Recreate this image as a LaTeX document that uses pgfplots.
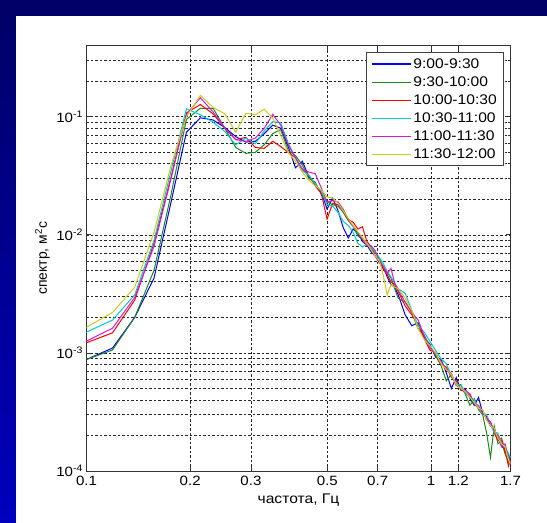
\documentclass[border=0pt]{standalone}
\usepackage{fontspec}
\setmainfont{Liberation Sans}[FakeStretch=1.12]
\newfontfamily\ylabfont{Liberation Sans}
\usepackage{pgfplots}
\usepackage{pgfplotstable}
\pgfplotsset{compat=1.18}

\definecolor{bgtop}{RGB}{0,0,102}
\definecolor{bgbot}{RGB}{0,0,190}
\definecolor{mblue}{rgb}{0,0,1}
\definecolor{mgreen}{rgb}{0.1,0.55,0.1}
\definecolor{mred}{rgb}{1,0,0}
\definecolor{mcyan}{rgb}{0,0.8,0.8}
\definecolor{mmag}{rgb}{0.85,0.1,0.85}
\definecolor{myel}{rgb}{0.8,0.8,0.1}

% spectra, one column per half-hour interval
\pgfplotstableread{
f     b       g       r       c       m       y
0.100 8.8e-4  8.8e-4  1.22e-3 1.5e-3  1.26e-3 1.65e-3
0.119 1.1e-3  1.06e-3 1.48e-3 1.9e-3  1.62e-3 2.2e-3
0.138 2.0e-3  2.0e-3  2.8e-3  3.1e-3  2.95e-3 3.6e-3
0.157 4.3e-3  5.0e-3  8.5e-3  9.0e-3  8.0e-3  1.05e-2
0.176 0.019   0.022   0.031   0.035   0.030   0.039
0.195 0.074   0.095   0.108   0.117   0.105   0.100
0.214 0.098   0.118   0.127   0.104   0.145   0.152
0.233 0.094   0.118   0.106   0.090   0.110   0.120
0.252 0.081   0.080   0.080   0.075   0.080   0.106
0.271 0.068   0.055   0.064   0.058   0.064   0.074
0.290 0.061   0.049   0.067   0.066   0.062   0.107
0.309 0.062   0.050   0.055   0.059   0.066   0.104
0.328 0.072   0.058   0.054   0.076   0.080   0.116
0.347 0.085   0.072   0.062   0.091   0.105   0.098
0.366 0.080   0.078   0.056   0.089   0.085   0.070
0.385 0.056   0.052   0.050   0.060   0.058   0.050
0.404 0.037   0.047   0.045   0.045   0.045   0.042
0.423 0.042   0.039   0.036   0.035   0.036   0.034
0.442 0.031   0.030   0.032   0.032   0.034   0.029
0.461 0.027   0.028   0.026   0.027   0.033   0.026
0.480 0.023   0.022   0.0225  0.0235  0.025   0.024
0.499 0.0165  0.019   0.0136  0.018   0.019   0.021
0.518 0.0205  0.018   0.0185  0.0175  0.0195  0.0205
0.537 0.016   0.0175  0.018   0.0155  0.019   0.0185
0.556 0.0115  0.0155  0.016   0.013   0.0165  0.016
0.575 0.0094  0.0132  0.0135  0.012   0.0135  0.0138
0.594 0.0112  0.0118  0.0128  0.0105  0.0118  0.012
0.613 0.0104  0.0098  0.0112  0.0085  0.0105  0.0106
0.632 0.0088  0.0092  0.0117  0.0079  0.0092  0.0095
0.651 0.0082  0.0086  0.0088  0.0084  0.0081  0.0085
0.670 0.0072  0.0074  0.0079  0.0078  0.0081  0.0075
0.689 0.0066  0.0071  0.0066  0.0072  0.0073  0.0066
0.708 0.0058  0.0063  0.0059  0.0064  0.0059  0.0060
0.727 0.0054  0.0053  0.0051  0.0057  0.0054  0.0045
0.746 0.0044  0.0048  0.0046  0.0049  0.0047  0.0031
0.765 0.0038  0.0043  0.0040  0.0044  0.0052  0.0038
0.784 0.0036  0.0035  0.0038  0.0039  0.0039  0.0036
0.803 0.0031  0.0029  0.0033  0.0035  0.0034  0.0035
0.841 0.0021  0.0027  0.0025  0.0032  0.0027  0.0029
0.879 0.0017  0.0022  0.0021  0.0023  0.0022  0.0023
0.917 0.0018  0.0016  0.00175 0.0017  0.0019  0.0016
0.955 0.00135 0.00142 0.00132 0.0015  0.0014  0.0013
0.993 0.00118 0.00112 0.00105 0.00125 0.0011  0.00115
1.031 9.2e-4  9.5e-4  1.01e-3 1.05e-3 9.7e-4  1.0e-3
1.069 8.8e-4  7.8e-4  8.0e-4  8.9e-4  8.5e-4  8.1e-4
1.107 6.8e-4  5.8e-4  7.6e-4  8.1e-4  7.2e-4  7.2e-4
1.145 5.0e-4  6.6e-4  6.2e-4  6.4e-4  6.7e-4  6.6e-4
1.183 6.2e-4  5.3e-4  5.8e-4  5.5e-4  5.3e-4  5.4e-4
1.221 4.8e-4  5.4e-4  4.9e-4  5.3e-4  5.0e-4  5.0e-4
1.259 4.9e-4  4.4e-4  4.6e-4  4.5e-4  4.8e-4  4.7e-4
1.297 4.1e-4  3.6e-4  4.4e-4  4.2e-4  4.5e-4  4.2e-4
1.335 3.6e-4  4.1e-4  3.7e-4  4.0e-4  3.7e-4  3.8e-4
1.373 4.2e-4  3.3e-4  3.4e-4  3.4e-4  3.6e-4  3.4e-4
1.411 3.1e-4  3.0e-4  3.3e-4  3.1e-4  3.1e-4  3.3e-4
1.449 2.9e-4  2.1e-4  2.7e-4  3.0e-4  2.8e-4  2.7e-4
1.487 2.4e-4  1.3e-4  2.6e-4  2.5e-4  2.6e-4  2.4e-4
1.525 2.3e-4  2.4e-4  2.1e-4  2.1e-4  2.2e-4  2.3e-4
1.563 1.9e-4  1.7e-4  1.8e-4  2.1e-4  2.0e-4  1.9e-4
1.601 1.65e-4 1.8e-4  1.9e-4  1.7e-4  1.6e-4  1.7e-4
1.639 1.48e-4 1.4e-4  1.5e-4  1.6e-4  1.7e-4  1.6e-4
1.677 1.4e-4  1.2e-4  1.1e-4  1.4e-4  1.3e-4  1.25e-4
1.700 1.2e-4  1.35e-4 1.25e-4 1.3e-4  1.2e-4  1.15e-4
}\spec

\newcommand\ticfont{\fontsize{13.5}{15}\selectfont}

\begin{document}
\begin{tikzpicture}
\path[use as bounding box] (0,0) rectangle (547bp,523bp);
\shade[top color=bgtop, bottom color=bgbot] (0,0) rectangle (547bp,523bp);
\fill[white] (16bp,0) rectangle (547bp,507bp);
\begin{axis}[
  at={(86.5bp,52bp)}, anchor=south west,
  scale only axis, width=424bp, height=425.3bp,
  xmode=log, ymode=log,
  xmin=0.1, xmax=1.7, ymin=1e-4, ymax=0.4,
  xtick={0.1,0.2,0.3,0.5,0.7,1,1.2,1.7},
  xticklabels={0.1,0.2,0.3,0.5,0.7,1,1.2,1.7},
  minor xtick={},
  ytick={1e-4,1e-3,1e-2,1e-1},
  yticklabels={10\textsuperscript{-4},10\textsuperscript{-3},10\textsuperscript{-2},10\textsuperscript{-1}},
  minor ytick={2e-4,3e-4,4e-4,5e-4,6e-4,7e-4,8e-4,9e-4,
               2e-3,3e-3,4e-3,5e-3,6e-3,7e-3,8e-3,9e-3,
               2e-2,3e-2,4e-2,5e-2,6e-2,7e-2,8e-2,9e-2,
               2e-1,3e-1},
  grid=both,
  major grid style={black!85, line width=0.7bp, dash pattern=on 2.5bp off 2bp},
  minor grid style={black!85, line width=0.7bp, dash pattern=on 2.5bp off 2bp},
  axis line style={black!80, line width=1bp},
  every tick/.style={black!80, line width=0.8bp},
  major tick length=5bp, minor tick length=3bp,
  tick align=inside,
  xticklabel style={font=\ticfont, yshift=-1.5bp},
  yticklabel style={font=\ticfont},
  xlabel={частота, Гц},
  ylabel={\ylabfont спектр, м\textsuperscript{2}с},
  xlabel style={font=\fontsize{14}{16}\selectfont, at={(axis description cs:0.5,0)}, anchor=base, yshift=-32bp},
  ylabel style={font=\fontsize{14}{16}\selectfont, at={(axis description cs:-0.0932,0.5)}, anchor=base},
  legend style={at={(1,1)}, anchor=north east, xshift=-6.2bp, yshift=-6.3bp,
    draw=black!75, line width=1bp, inner xsep=5bp, inner ysep=4bp,
    row sep=2.8bp, column sep=0bp,
    nodes={inner xsep=2bp, inner ysep=2bp},
    font=\fontsize{14}{16}\selectfont},
  legend cell align=left,
  legend image code/.code={\draw[#1, line width=1.3bp] (0bp,0bp) -- (39bp,0bp);},
  every axis plot/.append style={line width=1bp},
]
\addplot[mblue]  table[x=f, y=b] {\spec};
\addplot[mgreen] table[x=f, y=g] {\spec};
\addplot[mred]   table[x=f, y=r] {\spec};
\addplot[mcyan]  table[x=f, y=c] {\spec};
\addplot[mmag]   table[x=f, y=m] {\spec};
\addplot[myel]   table[x=f, y=y] {\spec};
\legend{9:00-9:30,9:30-10:00,10:00-10:30,10:30-11:00,11:00-11:30,11:30-12:00}
\end{axis}
\end{tikzpicture}
\end{document}
